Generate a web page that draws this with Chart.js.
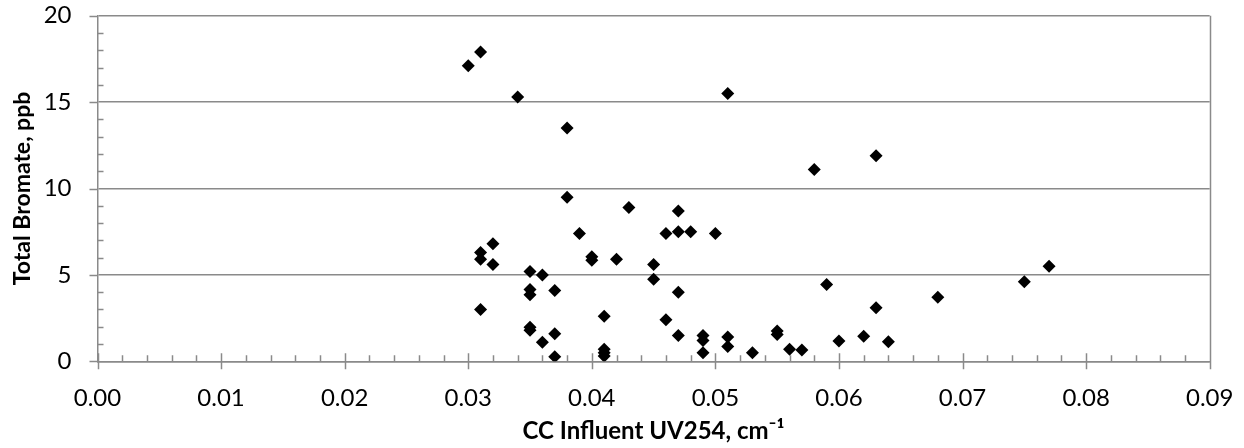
<!DOCTYPE html>
<html>
<head>
<meta charset="utf-8">
<script src="https://cdn.jsdelivr.net/npm/chart.js@4/dist/chart.umd.min.js"></script>
<style>
  html, body { margin: 0; padding: 0; background: #fff; }
  #wrap { width: 1244px; height: 448px; position: relative; }
</style>
</head>
<body>
<div id="wrap"><canvas id="chart" width="1244" height="448"></canvas></div>
<script>
// CC influent UV254 (cm-1) versus total bromate (ppb)
const uv254 = [
  0.030, 0.031, 0.034, 0.038, 0.051, 0.038, 0.058, 0.063, 0.043, 0.047,
  0.039, 0.046, 0.047, 0.048, 0.050, 0.031, 0.031, 0.032, 0.032, 0.040,
  0.040, 0.042, 0.045, 0.045, 0.035, 0.036, 0.035, 0.035, 0.037, 0.047,
  0.031, 0.041, 0.046, 0.035, 0.035, 0.037, 0.036, 0.037, 0.041, 0.041,
  0.041, 0.047, 0.049, 0.049, 0.049, 0.051, 0.051, 0.053, 0.055, 0.055,
  0.056, 0.057, 0.059, 0.060, 0.062, 0.063, 0.064, 0.068, 0.075, 0.077
];
const bromate = [
  17.1, 17.9, 15.3, 13.5, 15.5, 9.5, 11.1, 11.9, 8.9, 8.7,
  7.4, 7.4, 7.5, 7.5, 7.4, 6.3, 5.9, 6.8, 5.6, 6.05,
  5.85, 5.9, 5.6, 4.75, 5.2, 5.0, 4.15, 3.85, 4.1, 4.0,
  3.0, 2.6, 2.4, 1.97, 1.8, 1.6, 1.1, 0.27, 0.7, 0.5,
  0.3, 1.5, 1.5, 1.2, 0.5, 1.4, 0.85, 0.5, 1.75, 1.55,
  0.7, 0.65, 4.45, 1.17, 1.45, 3.1, 1.13, 3.7, 4.6, 5.5
];
const xTicks = { min: 0, max: 0.09, step: 0.01, minorStep: 0.002 };
const yTicks = { min: 0, max: 20, step: 5, minorStep: 1 };

const AXIS_GRAY = '#8a8a8a';
const FONT = 'Lato, "Open Sans", "DejaVu Sans", sans-serif';

// Tick marks in the spreadsheet style: crossing major ticks and inside minor ticks,
// plus the closing border on the right of the plot area.
const axisMarks = {
  id: 'axisMarks',
  afterDatasetsDraw(chart) {
    const { ctx, chartArea: a, scales: { x, y } } = chart;
    ctx.save();
    ctx.strokeStyle = AXIS_GRAY;
    ctx.lineWidth = 1.5;
    ctx.beginPath();
    const nY = Math.round((yTicks.max - yTicks.min) / yTicks.minorStep);
    const perY = Math.round(yTicks.step / yTicks.minorStep);
    for (let i = 0; i <= nY; i++) {
      const py = Math.round(y.getPixelForValue(yTicks.min + i * yTicks.minorStep)) + 0.5;
      if (i % perY === 0) { ctx.moveTo(a.left - 8, py); ctx.lineTo(a.left, py); }
      else { ctx.moveTo(a.left, py); ctx.lineTo(a.left + 6, py); }
    }
    const nX = Math.round((xTicks.max - xTicks.min) / xTicks.minorStep);
    const perX = Math.round(xTicks.step / xTicks.minorStep);
    for (let i = 0; i <= nX; i++) {
      const px = Math.round(x.getPixelForValue(xTicks.min + i * xTicks.minorStep)) + 0.5;
      if (i % perX === 0) { ctx.moveTo(px, a.bottom - 8); ctx.lineTo(px, a.bottom + 8); }
      else { ctx.moveTo(px, a.bottom - 6); ctx.lineTo(px, a.bottom); }
    }
    const rx = Math.round(x.getPixelForValue(xTicks.max)) + 0.5;
    ctx.moveTo(rx, a.top); ctx.lineTo(rx, a.bottom);
    ctx.stroke();
    ctx.restore();
  }
};

new Chart(document.getElementById('chart'), {
  type: 'scatter',
  data: {
    datasets: [{
      label: 'Total Bromate',
      data: uv254.map((v, i) => ({ x: v, y: bromate[i] })),
      pointStyle: 'rectRot',
      pointRadius: 6.5,
      pointHoverRadius: 6.5,
      pointBorderWidth: 0,
      backgroundColor: '#000',
      borderColor: '#000'
    }]
  },
  options: {
    responsive: false,
    animation: false,
    events: [],
    layout: { padding: { top: 15.7, right: 34.3, left: 0, bottom: 0 } },
    plugins: { legend: { display: false }, tooltip: { enabled: false } },
    scales: {
      x: {
        type: 'linear',
        min: xTicks.min, max: xTicks.max,
        afterFit(s) { s.height = 86.7; s.paddingLeft = 0; s.paddingRight = 0; },
        grid: { display: false, drawTicks: false },
        border: { display: true, color: AXIS_GRAY, width: 1.5 },
        ticks: {
          stepSize: xTicks.step,
          padding: 23,
          color: '#000',
          font: { family: FONT, size: 24 },
          callback: v => Number(v).toFixed(2)
        },
        title: {
          display: true,
          text: 'CC Influent UV254, cm⁻¹',
          color: '#000',
          font: { family: FONT, size: 24, weight: 'bold' },
          padding: { top: 0, bottom: 2 }
        }
      },
      y: {
        type: 'linear',
        min: yTicks.min, max: yTicks.max,
        afterFit(s) { s.width = 97.5; s.paddingTop = 0; s.paddingBottom = 0; },
        grid: { color: AXIS_GRAY, lineWidth: 1.5, drawTicks: false },
        border: { display: true, color: AXIS_GRAY, width: 1.5 },
        ticks: {
          stepSize: yTicks.step,
          padding: 26,
          color: '#000',
          font: { family: FONT, size: 24 }
        },
        title: {
          display: true,
          text: 'Total Bromate, ppb',
          color: '#000',
          font: { family: FONT, size: 23, weight: 'bold' },
          padding: { top: 9, bottom: 0 }
        }
      }
    }
  },
  plugins: [axisMarks]
});
</script>
</body>
</html>
